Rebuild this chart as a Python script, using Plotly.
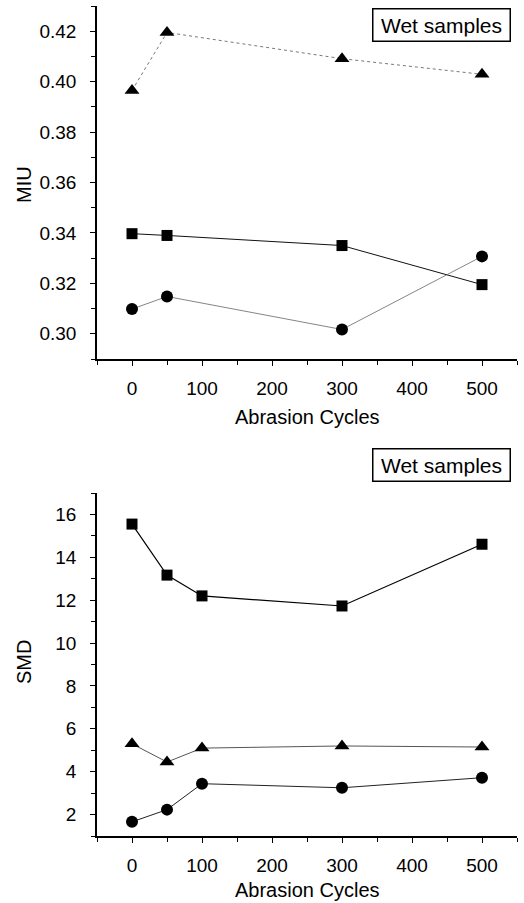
import plotly.graph_objects as go

# ---- data ----
cycles_top = [0, 50, 300, 500]
miu_triangle = [0.3965, 0.4195, 0.4091, 0.4029]
miu_square = [0.3397, 0.3390, 0.3350, 0.3195]
miu_circle = [0.3098, 0.3148, 0.3017, 0.3307]

cycles_bot = [0, 50, 100, 300, 500]
smd_square = [15.55, 13.17, 12.2, 11.73, 14.61]
smd_triangle = [5.3, 4.45, 5.1, 5.2, 5.15]
smd_circle = [1.66, 2.23, 3.44, 3.25, 3.72]

x_ticks = [0, 100, 200, 300, 400, 500]
miu_ticks = [0.30, 0.32, 0.34, 0.36, 0.38, 0.40, 0.42]
smd_ticks = [2, 4, 6, 8, 10, 12, 14, 16]

FONT = "Liberation Sans, Arial, sans-serif"

fig = go.Figure()

def add(x, y, sym, size, color, dash, width, xa, ya):
    fig.add_trace(go.Scatter(
        x=x, y=y, mode="lines+markers", xaxis=xa, yaxis=ya,
        marker=dict(symbol=sym, size=size, color="black"),
        line=dict(color=color, dash=dash, width=width),
        showlegend=False, hoverinfo="skip"))

add(cycles_top, miu_triangle, "triangle-up", 13, "#777777", "dot", 1, "x", "y")
add(cycles_top, miu_square, "square", 11, "#111111", "solid", 1, "x", "y")
add(cycles_top, miu_circle, "circle", 12, "#666666", "solid", 0.8, "x", "y")

add(cycles_bot, smd_square, "square", 11, "#000000", "solid", 1.2, "x2", "y2")
add(cycles_bot, smd_triangle, "triangle-up", 13, "#555555", "solid", 1, "x2", "y2")
add(cycles_bot, smd_circle, "circle", 12, "#222222", "solid", 1, "x2", "y2")

W, H = 524, 903
xdom = [97 / W, 517 / W]
top_dom = [(H - 359) / H, (H - 6) / H]
bot_dom = [(H - 836) / H, (H - 493) / H]

xaxis_common = dict(
    range=[-50, 550], tickvals=x_ticks, showline=True, linecolor="black",
    linewidth=1.5, ticks="outside", ticklen=5, tickwidth=1.2, tickcolor="black",
    showgrid=False, zeroline=False, ticklabelstandoff=6,
    tickfont=dict(family=FONT, size=19, color="black"),
    minor=dict(dtick=50, ticks="outside", ticklen=4, tickwidth=1, tickcolor="black", showgrid=False),
)
yaxis_common = dict(
    showline=True, linecolor="black", linewidth=1.5, ticks="outside",
    ticklen=5, tickwidth=1.2, tickcolor="black", showgrid=False, zeroline=False,
    ticklabelstandoff=10,
    tickfont=dict(family=FONT, size=19, color="black"),
)

fig.update_layout(
    width=W, height=H, margin=dict(l=0, r=0, t=0, b=0),
    paper_bgcolor="white", plot_bgcolor="white",
    xaxis=dict(domain=xdom, anchor="y", **xaxis_common),
    yaxis=dict(domain=top_dom, anchor="x", range=[0.29, 0.43], tickvals=miu_ticks,
               ticktext=[f"{v:.2f}" for v in miu_ticks],
               minor=dict(dtick=0.01, tick0=0.29, ticks="outside", ticklen=4, tickwidth=1,
                          tickcolor="black", showgrid=False),
               **yaxis_common),
    xaxis2=dict(domain=xdom, anchor="y2", **xaxis_common),
    yaxis2=dict(domain=bot_dom, anchor="x2", range=[1, 17], tickvals=smd_ticks,
                minor=dict(dtick=1, tick0=1, ticks="outside", ticklen=4, tickwidth=1,
                           tickcolor="black", showgrid=False),
                **yaxis_common),
)

ann_font = dict(family=FONT, size=20, color="black")
common = dict(xref="paper", yref="paper", showarrow=False, xanchor="center", yanchor="middle")
fig.add_annotation(text="MIU", x=24 / W, y=(H - 185) / H, textangle=-90, font=ann_font, **common)
fig.add_annotation(text="SMD", x=24 / W, y=(H - 662) / H, textangle=-90, font=ann_font, **common)
fig.add_annotation(text="Abrasion Cycles", x=307 / W, y=(H - 417) / H, font=ann_font, **common)
fig.add_annotation(text="Abrasion Cycles", x=307 / W, y=(H - 890) / H, font=ann_font, **common)

for yc in [24.5, 465]:
    fig.add_annotation(text="Wet samples", x=441 / W, y=(H - yc) / H,
                       font=dict(family=FONT, size=21, color="black"),
                       bordercolor="black", borderwidth=1.5, borderpad=4,
                       bgcolor="white", width=128, **common)

fig.write_html("out.html", config={"displayModeBar": False},
               post_script="document.body.style.margin='0';document.body.style.overflow='hidden';")
